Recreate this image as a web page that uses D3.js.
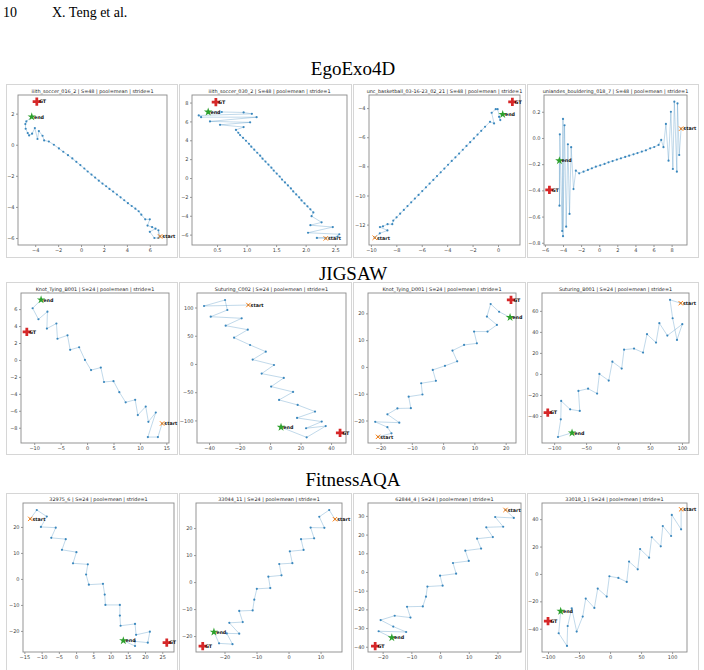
<!DOCTYPE html>
<html>
<head>
<meta charset="utf-8">
<title>Trajectory panels</title>
<script src="https://d3js.org/d3.v7.min.js"></script>
<style>
  body { margin: 0; background: #fff; }
  svg { display: block; }
</style>
</head>
<body>
<div id="chart"></div>
<script>

// ---- data ----
var sections = ["EgoExo4D", "JIGSAW", "FitnessAQA"];

var titles = [
  "iiith_soccer_016_2 | S=48 | pool=mean | stride=1",
  "iiith_soccer_030_2 | S=48 | pool=mean | stride=1",
  "unc_basketball_03-16-23_02_21 | S=48 | pool=mean | stride=1",
  "uniandes_bouldering_018_7 | S=48 | pool=mean | stride=1",
  "Knot_Tying_B001 | S=24 | pool=mean | stride=1",
  "Suturing_C002 | S=24 | pool=mean | stride=1",
  "Knot_Tying_D001 | S=24 | pool=mean | stride=1",
  "Suturing_B001 | S=24 | pool=mean | stride=1",
  "32975_6 | S=24 | pool=mean | stride=1",
  "33044_11 | S=24 | pool=mean | stride=1",
  "62844_4 | S=24 | pool=mean | stride=1",
  "33018_1 | S=24 | pool=mean | stride=1"
];

// trajectories: first point = start, last point = end
var p1Path = [[6.9,-5.9],[6.75,-5.5],[6.75,-6.0],[6.4,-6.0],[6.0,-5.6],[6.5,-5.4],[6.2,-5.3],[5.8,-5.2],[6.0,-4.8],[5.6,-4.8],[5.26,-4.5],
  [5.03,-4.28],[4.74,-4.11],[4.42,-3.94],[4.09,-3.76],[3.77,-3.57],[3.45,-3.38],[3.13,-3.2],[2.8,-3.01],[2.48,-2.84],[2.19,-2.67],[1.87,-2.5],[1.55,-2.31],[1.23,-2.11],[0.91,-1.92],[0.58,-1.72],[0.29,-1.53],[-0.06,-1.31],[-0.41,-1.1],[-0.76,-0.88],[-1.14,-0.67],[-1.55,-0.45],[-1.93,-0.24],[-2.37,0.0],[-2.81,0.21],[-3.22,0.28],
  [-3.36,0.58],[-3.68,0.88],[-3.8,0.37],[-4.03,1.07],[-4.27,0.71],[-4.53,0.6],[-4.65,0.75],[-4.83,1.03],[-4.86,1.33],[-4.77,1.5],[-4.3,1.8]];
var p1GT = [-3.86,2.77];

var p2Path = [[2.34,-6.4],[2.19,-6.35],[2.54,-6.2],[2.57,-5.96],[2.04,-5.8],[2.46,-5.2],[2.08,-5.0],[2.27,-4.7],[2.1,-4.04],[2.13,-3.65],
  [2.08,-3.32],[2.03,-3.0],[1.98,-2.68],[1.93,-2.37],[1.89,-2.05],[1.84,-1.74],[1.79,-1.42],[1.75,-1.1],[1.7,-0.79],[1.65,-0.47],[1.6,-0.16],[1.56,0.16],[1.51,0.47],[1.46,0.79],[1.42,1.1],[1.37,1.42],[1.32,1.74],[1.27,2.05],[1.23,2.37],[1.18,2.68],[1.13,3.0],[1.08,3.32],[1.04,3.63],[0.99,3.95],[0.94,4.26],[0.89,4.55],[0.86,4.8],
  [0.82,5.1],[0.95,5.4],[0.55,5.64],[1.06,5.9],[0.38,6.0],[1.17,6.45],[0.23,6.45],[0.19,6.63],[1.09,6.8],[0.95,6.95],[0.58,7.0],[0.35,7.0]];
var p2GT = [0.48,8.05];

var p3Path = [[-9.7,-12.9],[-9.3,-12.6],[-8.7,-12.4],[-9.29,-12.17],[-9.05,-12.12],[-8.69,-11.97],[-8.32,-11.97],[-8.24,-11.72],
  [-7.98,-11.5],[-7.7,-11.25],[-7.41,-10.99],[-7.12,-10.73],[-6.83,-10.47],[-6.54,-10.21],[-6.25,-9.96],[-5.96,-9.7],[-5.67,-9.44],[-5.38,-9.18],[-5.09,-8.93],[-4.8,-8.67],[-4.51,-8.41],[-4.22,-8.15],[-3.93,-7.89],[-3.64,-7.63],[-3.35,-7.38],[-3.06,-7.12],[-2.77,-6.86],[-2.48,-6.6],[-2.19,-6.34],[-1.9,-6.08],[-1.61,-5.82],[-1.32,-5.56],[-1.02,-5.28],
  [-0.63,-4.94],[-0.31,-5.05],[-0.5,-4.32],[-0.18,-4.07],[-0.03,-4.07],[0.18,-4.82],[0.08,-4.6],[0.37,-4.43]];
var p3GT = [1.13,-3.57];

var p4Path = [[9.05,0.071],[8.84,-0.13],[8.65,0.264],[8.58,-0.257],[8.3,0.277],[8.14,-0.237],[7.92,0.2],[7.66,-0.173],[7.37,0.107],[7.1,-0.07],[6.85,-0.015],
  [6.56,-0.053],[6.08,-0.069],[5.63,-0.079],[5.16,-0.094],[4.71,-0.104],[4.23,-0.115],[3.79,-0.125],[3.31,-0.135],[2.87,-0.145],[2.4,-0.155],[1.95,-0.165],[1.48,-0.176],[1.03,-0.186],[0.59,-0.198],[0.11,-0.209],[-0.37,-0.219],[-0.81,-0.232],[-1.25,-0.244],[-1.73,-0.257],[-2.21,-0.27],
  [-2.58,-0.25],[-2.84,-0.39],[-3.1,-0.07],[-3.28,-0.58],[-3.46,-0.048],[-3.65,-0.677],[-3.83,0.097],[-4.0,-0.75],[-4.0,0.145],[-4.09,-0.71],[-4.35,0.028],[-4.39,-0.517],[-4.4,-0.173]];
var p4GT = [-5.5,-0.397];

var p5Path = [[14.2,-7.5],[13.4,-9.1],[11.5,-9.1],[13.0,-6.2],[11.6,-7.3],[11.1,-5.5],[9.6,-6.5],[9.1,-4.7],[7.3,-5.0],[6.1,-3.8],[5.0,-2.5],[3.2,-2.6],[2.6,-0.9],[0.75,-1.2],[-0.4,0.0],[-1.5,1.5],[-3.2,1.2],[-3.7,2.9],[-5.6,2.5],[-5.8,4.3],[-7.6,3.7],[-7.5,5.7],[-9.2,4.8],[-10.3,6.1],[-8.7,7.1]];
var p5GT = [-11.4,3.3];

var p6Path = [[-14.2,104.4],[-43.3,102.7],[-29.5,113.3],[-28.0,95.6],[-38.9,83.7],[-18.6,80.9],[-29.1,67.8],[-14.6,60.7],[-23.6,46.5],[-13.1,33.6],[-2.8,21.8],[-11.4,7.7],[2.6,-1.8],[-5.5,-17.1],[9.0,-24.8],[0.7,-40.1],[15.1,-49.6],[5.9,-63.7],[18.1,-72.6],[29.5,-84.4],[17.7,-95.6],[33.9,-102.1],[23.6,-113.9],[36.5,-110],[24,-130],[7.2,-112]];
var p6GT = [45.9,-122];

var p7Path = [[-20.8,-26.1],[-16.5,-24.8],[-17.8,-22.5],[-21.7,-20.5],[-14.0,-20.8],[-17.8,-17.7],[-14.6,-15.5],[-10.3,-15.4],[-11.0,-11.1],[-6.6,-10.3],[-7.0,-6.1],[-2.3,-5.2],[-3.3,-1.1],[0.6,0.4],[4.5,2.1],[3.0,6.1],[6.7,8.2],[10.8,8.8],[9.9,13.2],[14.2,13.2],[17.2,15.7],[14.0,18.8],[15.2,23.5],[17.9,20.6],[21.4,18.5]];
var p7GT = [21.7,25.0];

var p8Path = [[98,67.3],[81.3,70.5],[85.4,53.0],[92.2,32.4],[100.5,47.3],[77.1,36.5],[64.6,48.3],[59.4,29.8],[45.3,37.8],[39.1,20.3],[25.0,24.1],[9.4,23.1],[5.7,5.1],[-8.9,11.7],[-14.6,-6.3],[-29.2,0.0],[-32.8,-18.7],[-46.9,-14.0],[-62,-16.2],[-59.9,-35.2],[-75,-33.7],[-89,-25.7],[-89.6,-43.2],[-94,-60],[-72,-56]];
var p8GT = [-110,-36.8];

var p9Path = [[-13.3,23.1],[-11.4,26.5],[-8.5,24.0],[-10.2,20.0],[-5.9,19.7],[-7.2,15.8],[-3.0,15.3],[-4.1,11.2],[0.1,10.3],[-0.9,6.0],[3.4,5.6],[2.9,1.7],[3.7,-2.2],[7.8,-1.9],[8.3,-6.0],[8.5,-10.0],[12.7,-10.0],[12.7,-14.1],[12.9,-18.0],[17.1,-17.3],[17.4,-21.5],[21.4,-20.3],[20.8,-24.5],[17.1,-24.0],[17.1,-25.8],[13.7,-23.7]];
var p9GT = [26.3,-24.5];

var p10Path = [[14.5,23.3],[12.7,26.7],[9.6,24.2],[11.2,20.1],[6.9,20.2],[8.0,16.2],[3.9,15.9],[4.7,11.9],[0.4,11.4],[1.2,7.0],[-2.9,6.7],[-2.2,2.5],[-6.3,2.0],[-5.7,-2.2],[-9.9,-2.5],[-10.7,-6.5],[-11.2,-10.5],[-15.4,-10.7],[-14.3,-14.8],[-18.5,-15.1],[-15.4,-19.1],[-19.3,-19.0],[-17.5,-23.0],[-21.7,-22.7],[-23.3,-18.5]];
var p10GT = [-26.8,-23.7];

var p11Path = [[22.8,33.2],[25.7,28.9],[19.2,29.4],[22.0,24.2],[16.1,23.9],[18.4,18.7],[12.9,17.8],[14.3,12.5],[8.8,11.4],[10.0,5.9],[4.5,4.8],[5.6,-0.9],[0.0,-2.0],[0.9,-7.3],[-4.4,-7.8],[-4.9,-13.2],[-6.0,-18.4],[-11.5,-18.6],[-10.3,-24.4],[-15.8,-23.4],[-20.7,-25.7],[-16.3,-29.2],[-11.8,-32.1],[-21.4,-31.7],[-16.8,-35.1]];
var p11GT = [-22.6,-39.6];

var p12Path = [[114.5,47.2],[114.5,32.6],[99.5,43.1],[98.4,27.7],[85.0,35.0],[81.7,20.2],[67.2,26.8],[62.9,11.9],[48.4,18.2],[44.6,3.4],[30.6,9.0],[26.9,-5.8],[13.4,-2.9],[-1.1,-1.7],[-5.4,-16.5],[-19.9,-10.7],[-25.3,-24.8],[-39.2,-18.0],[-44.1,-31.1],[-53.8,-42.1],[-61.8,-25.1],[-68.3,-38.0],[-69.4,-52.6],[-82.8,-43.3],[-79.6,-27.2]];
var p12GT = [-100,-34.5];

// tick values
var p1XTicks = [-4,-2,0,2,4,6],          p1YTicks = [-6,-4,-2,0,2];
var p2XTicks = [0.5,1.0,1.5,2.0,2.5],    p2YTicks = [-6,-4,-2,0,2,4,6,8];
var p3XTicks = [-10,-8,-6,-4,-2,0],      p3YTicks = [-12,-10,-8,-6,-4];
var p4XTicks = [-6,-4,-2,0,2,4,6,8],     p4YTicks = [-0.8,-0.6,-0.4,-0.2,0.0,0.2];
var p5XTicks = [-10,-5,0,5,10,15],       p5YTicks = [-8,-6,-4,-2,0,2,4,6];
var p6XTicks = [-40,-20,0,20,40],        p6YTicks = [-100,-50,0,50,100];
var p7XTicks = [-20,-10,0,10,20],        p7YTicks = [-20,-10,0,10,20];
var p8XTicks = [-100,-50,0,50,100],      p8YTicks = [-40,-20,0,20,40,60];
var p9XTicks = [-15,-10,-5,0,5,10,15,20,25], p9YTicks = [-20,-10,0,10,20];
var p10XTicks = [-20,-10,0,10],          p10YTicks = [-20,-10,0,10,20];
var p11XTicks = [-20,-10,0,10,20],       p11YTicks = [-40,-30,-20,-10,0,10,20,30];
var p12XTicks = [-100,-50,0,50,100],     p12YTicks = [-40,-20,0,20,40];

// ---- layout ----
var rows = [
  {frameTop: 84,  frameBottom: 257, top: 95,  bottom: 245, label: 75},
  {frameTop: 282, frameBottom: 454, top: 293, bottom: 443, label: 280},
  {frameTop: 493, frameBottom: 672, top: 503, bottom: 652, label: 486}
];
var frameX = [[6,177],[179,351],[353,525],[527,698]];

var panels = [
  {path: p1Path,  gt: p1GT,  xt: p1XTicks,  yt: p1YTicks,  xd: [-5.5,7.5],     yd: [-6.45,3.2],    px: [18,167],  fx: ".0f", fy: ".0f"},
  {path: p2Path,  gt: p2GT,  xt: p2XTicks,  yt: p2YTicks,  xd: [0.076,2.70],   yd: [-7.1,8.8],     px: [192,347], fx: ".1f", fy: ".0f"},
  {path: p3Path,  gt: p3GT,  xt: p3XTicks,  yt: p3YTicks,  xd: [-10.15,1.73],  yd: [-13.4,-3.1],   px: [369,520], fx: ".0f", fy: ".0f"},
  {path: p4Path,  gt: p4GT,  xt: p4XTicks,  yt: p4YTicks,  xd: [-6.1,9.7],     yd: [-0.817,0.328], px: [544,687], fx: ".0f", fy: ".1f"},
  {path: p5Path,  gt: p5GT,  xt: p5XTicks,  yt: p5YTicks,  xd: [-12.5,15.5],   yd: [-9.8,7.9],     px: [21,169],  fx: ".0f", fy: ".0f"},
  {path: p6Path,  gt: p6GT,  xt: p6XTicks,  yt: p6YTicks,  xd: [-47.9,49.8],   yd: [-140,125.7],   px: [197,346], fx: ".0f", fy: ".0f"},
  {path: p7Path,  gt: p7GT,  xt: p7XTicks,  yt: p7YTicks,  xd: [-24,23.3],     yd: [-28.4,27.6],   px: [368,516], fx: ".0f", fy: ".0f"},
  {path: p8Path,  gt: p8GT,  xt: p8XTicks,  yt: p8YTicks,  xd: [-119,111],     yd: [-65.7,77],     px: [542,689], fx: ".0f", fy: ".0f"},
  {path: p9Path,  gt: p9GT,  xt: p9XTicks,  yt: p9YTicks,  xd: [-15.4,28.4],   yd: [-28.1,29.2],   px: [23,174],  fx: ".0f", fy: ".0f"},
  {path: p10Path, gt: p10GT, xt: p10XTicks, yt: p10YTicks, xd: [-28.9,16.7],   yd: [-25.9,29.3],   px: [196,342], fx: ".0f", fy: ".0f"},
  {path: p11Path, gt: p11GT, xt: p11XTicks, yt: p11YTicks, xd: [-25.1,28.2],   yd: [-42.8,36.9],   px: [368,521], fx: ".0f", fy: ".0f"},
  {path: p12Path, gt: p12GT, xt: p12XTicks, yt: p12YTicks, xd: [-109.7,124],   yd: [-57,51.8],     px: [542,687], fx: ".0f", fy: ".0f"}
];

var svg = d3.select("#chart").append("svg")
    .attr("width", 704)
    .attr("height", 670);

svg.append("rect").attr("width", 704).attr("height", 670).attr("fill", "#fff");

// page header
svg.append("text").attr("x", 3).attr("y", 17)
  .style("font-family", "'Liberation Serif', serif").style("font-size", "14px")
  .text("10");
svg.append("text").attr("x", 52).attr("y", 17)
  .style("font-family", "'Liberation Serif', serif").style("font-size", "14px")
  .text("X. Teng et al.");

// section titles
rows.forEach(function(r, i) {
  svg.append("text")
    .attr("x", 353).attr("y", r.label)
    .attr("text-anchor", "middle")
    .style("font-family", "'Liberation Serif', serif")
    .style("font-size", "19px")
    .text(sections[i]);
});

var blue = "#1f77b4";

panels.forEach(function(p, i) {
  var r = rows[Math.floor(i / 4)];
  var fxr = frameX[i % 4];

  // panel frame
  svg.append("rect")
    .attr("x", fxr[0] + 0.5).attr("y", r.frameTop + 0.5)
    .attr("width", fxr[1] - fxr[0]).attr("height", r.frameBottom - r.frameTop)
    .attr("fill", "none").attr("stroke", "#d6d6d6").attr("stroke-width", 1);

  var x = d3.scaleLinear().domain(p.xd).range(p.px);
  var y = d3.scaleLinear().domain(p.yd).range([r.bottom, r.top]);

  var g = svg.append("g");

  // title
  g.append("text")
    .attr("x", (p.px[0] + p.px[1]) / 2).attr("y", r.top - 2.5)
    .attr("text-anchor", "middle")
    .style("font-family", "'DejaVu Sans', sans-serif")
    .style("font-size", "4.9px").attr("fill", "#222")
    .text(titles[i]);

  // axes
  var ax = g.append("g")
    .attr("transform", "translate(0," + r.bottom + ")")
    .call(d3.axisBottom(x).tickValues(p.xt).tickFormat(d3.format(p.fx)).tickSize(2).tickPadding(1.5));
  var ay = g.append("g")
    .attr("transform", "translate(" + p.px[0] + ",0)")
    .call(d3.axisLeft(y).tickValues(p.yt).tickFormat(d3.format(p.fy)).tickSize(2).tickPadding(1.5));
  [ax, ay].forEach(function(a) {
    a.select(".domain").remove();
    a.selectAll(".tick line").attr("stroke", "#555").attr("stroke-width", 0.6);
    a.selectAll(".tick text")
      .style("font-family", "'DejaVu Sans', sans-serif")
      .style("font-size", "5px").attr("fill", "#444");
  });

  // axes box
  g.append("rect")
    .attr("x", p.px[0]).attr("y", r.top)
    .attr("width", p.px[1] - p.px[0]).attr("height", r.bottom - r.top)
    .attr("fill", "none").attr("stroke", "#8a8a8a").attr("stroke-width", 0.9);

  // trajectory line
  g.append("path")
    .datum(p.path)
    .attr("fill", "none")
    .attr("stroke", blue)
    .attr("stroke-opacity", 0.4)
    .attr("stroke-width", 0.7)
    .attr("d", d3.line()
      .x(function(d) { return x(d[0]); })
      .y(function(d) { return y(d[1]); }));

  // points
  g.selectAll(".pt")
    .data(p.path)
    .enter().append("circle")
      .attr("cx", function(d) { return x(d[0]); })
      .attr("cy", function(d) { return y(d[1]); })
      .attr("r", 1.1)
      .attr("fill", blue)
      .attr("fill-opacity", 0.85);

  var s = p.path[0], e = p.path[p.path.length - 1];

  // start: orange x
  g.append("path")
    .attr("transform", "translate(" + x(s[0]) + "," + y(s[1]) + ")")
    .attr("d", d3.symbol().type(d3.symbolX).size(14)())
    .attr("fill", "none").attr("stroke", "#ff7f0e").attr("stroke-width", 1);
  // end: green star
  g.append("path")
    .attr("transform", "translate(" + x(e[0]) + "," + y(e[1]) + ")")
    .attr("d", d3.symbol().type(d3.symbolStar).size(22)())
    .attr("fill", "#2ca02c");
  // GT: red filled plus
  g.append("path")
    .attr("transform", "translate(" + x(p.gt[0]) + "," + y(p.gt[1]) + ")")
    .attr("d", d3.symbol().type(d3.symbolCross).size(38)())
    .attr("fill", "#d62728");

  var labels = [[s, "start"], [e, "end"], [p.gt, "GT"]];
  labels.forEach(function(l) {
    g.append("text")
      .attr("x", x(l[0][0]) + 2.2).attr("y", y(l[0][1]) + 1.8)
      .style("font-family", "'DejaVu Sans', sans-serif")
      .style("font-size", "4.8px").style("font-weight", "bold")
      .attr("fill", "#111")
      .text(l[1]);
  });
});

</script>
</body>
</html>
